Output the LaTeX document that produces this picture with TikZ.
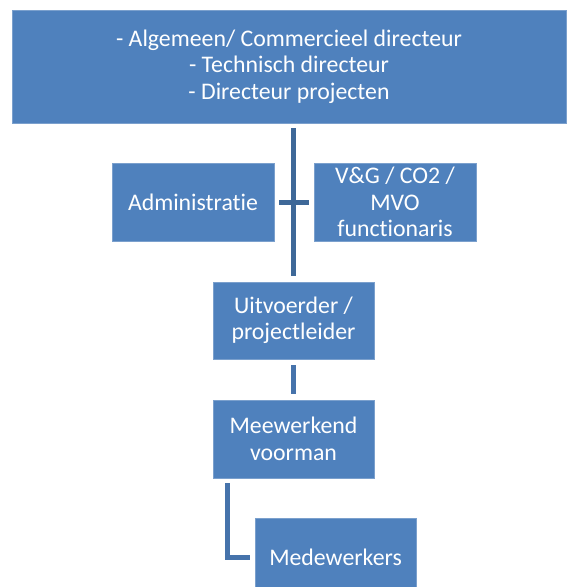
\documentclass[tikz,border=0pt]{standalone}
\usepackage{fontspec}
\setmainfont{Carlito}[RawFeature=-liga]
\usepackage{xcolor}
\usetikzlibrary{positioning}

\definecolor{boxblue}{HTML}{4F81BD}
\definecolor{trunkblue}{HTML}{3E6898}
\definecolor{linkblue}{HTML}{4673AB}

\begin{document}
\begin{tikzpicture}[x=1pt, y=1pt,
                        box/.style={fill=boxblue, draw=boxblue!75!white, line width=0.5pt,
                        text=white, align=center, inner sep=0pt,
                        font=\fontsize{23.8}{26.5}\selectfont},
                        trunk/.style={draw=trunkblue, line width=5pt},
                        link/.style={draw=linkblue, line width=5pt}]
                        \useasboundingbox (0,0) rectangle (566,-587);
                        % boxes
                        \node[box, minimum width=554pt, minimum height=113pt]
                        (board) at (289,-66.5)
                        {- Algemeen/ Commercieel directeur\\ - Technisch directeur\\ - Directeur projecten};
                        \node[box, minimum width=162pt, minimum height=78pt]
                        (admin) at (193,-202) {Administratie};
                        \node[box, minimum width=162pt, minimum height=78pt]
                        (vgco) at (395,-202) {V\&G / CO2 /\\ MVO\\ functionaris};
                        \node[box, minimum width=161pt, minimum height=77pt]
                        (uitv) at (293.5,-320.5) {Uitvoerder /\\ projectleider};
                        \node[box, minimum width=161pt, minimum height=78pt]
                        (meew) at (293.5,-439) {Meewerkend\\ voorman};
                        \node[box, minimum width=161pt, minimum height=78pt]
                        (medew) at (335.5,-557) {Medewerkers};
                        % connectors
                        \draw[trunk, shorten <=5pt, shorten >=6pt]
                        (board.south -| uitv.north) -- (uitv.north);
                        \draw[trunk, shorten <=5pt, shorten >=5pt]
                        (admin.east) -- (vgco.west);
                        \draw[link, shorten <=6pt, shorten >=6pt]
                        (uitv.south) -- (meew.north);
                        \coordinate (bend) at ([xshift=15pt]meew.south west |- medew.west);
                        \draw[link, shorten <=5pt, shorten >=5pt]
                        ([xshift=15pt]meew.south west) -- (bend) -- (medew.west);
                    \end{tikzpicture}
\end{document}
